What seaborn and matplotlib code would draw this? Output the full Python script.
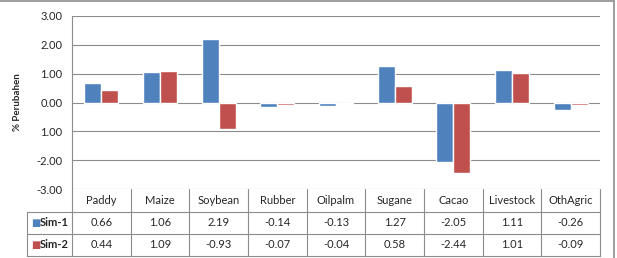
import numpy as np
import matplotlib
matplotlib.use("Agg")
import matplotlib.pyplot as plt
import matplotlib.transforms as mtransforms
import pandas as pd
import seaborn as sns
from matplotlib.lines import Line2D

categories = ["Paddy", "Maize", "Soybean", "Rubber", "Oilpalm", "Sugane", "Cacao", "Livestock", "OthAgric"]
sim1 = [0.66, 1.06, 2.19, -0.14, -0.13, 1.27, -2.05, 1.11, -0.26]
sim2 = [0.44, 1.09, -0.93, -0.07, -0.04, 0.58, -2.44, 1.01, -0.09]
series = ["Sim-1", "Sim-2"]
colors = ["#4F81BD", "#C0504D"]
ytick_vals = [3, 2, 1, 0, -1, -2, -3]
ytick_labels = ["3.00", "2.00", "1.00", "0.00", "1.00", "-2.00", "-3.00"]

df = pd.DataFrame({
    "cat": categories * 2,
    "val": sim1 + sim2,
    "sim": ["Sim-1"] * len(categories) + ["Sim-2"] * len(categories),
})

sns.set_style("white")
plt.rcParams["font.family"] = ["Lato", "DejaVu Sans"]

fig = plt.figure(figsize=(6.17, 2.58), dpi=100)
ax = fig.add_axes([72 / 617, 1 - 189 / 258, 528 / 617, 173 / 258])

sns.barplot(data=df, x="cat", y="val", hue="sim", palette=colors, width=0.58,
            ax=ax, legend=False, saturation=1)

ax.set_ylim(-3, 3)
ax.set_xlim(-0.5, len(categories) - 0.5)
ax.set_yticks(ytick_vals)
ax.set_yticklabels(ytick_labels, fontsize=8)
ax.set_xticks([])
ax.set_xlabel("")
ax.set_ylabel("% Perubahen", fontsize=7, fontweight="bold", labelpad=10)
for y in ytick_vals:
    ax.axhline(y, color="#8c8c8c", lw=0.8, zorder=0)
for s in ["top", "right", "bottom"]:
    ax.spines[s].set_visible(False)
ax.spines["left"].set_color("#8c8c8c")
ax.spines["left"].set_linewidth(0.8)
ax.tick_params(axis="y", length=3, color="#8c8c8c", pad=4)

# data table below the plot (x in category units, y in axes units)
tr = mtransforms.blended_transform_factory(ax.transData, ax.transAxes)
n = len(categories)
row_h = [0, -23 / 173, -45 / 173, -67 / 173]
lab_left = -0.5 - 45 / (528 / n)
line_kw = dict(color="#8c8c8c", lw=0.8, transform=tr, clip_on=False)
for y in row_h[1:]:
    ax.plot([lab_left, n - 0.5], [y, y], **line_kw)
for i in range(n + 1):
    ax.plot([i - 0.5, i - 0.5], [0, row_h[-1]], **line_kw)
ax.plot([lab_left, lab_left], [row_h[1], row_h[-1]], **line_kw)

for i, cat in enumerate(categories):
    ax.text(i, (row_h[0] + row_h[1]) / 2, cat, ha="center", va="center",
            fontsize=8, transform=tr)
    for r, vals in enumerate([sim1, sim2]):
        ax.text(i, (row_h[r + 1] + row_h[r + 2]) / 2, f"{vals[i]:.2f}",
                ha="center", va="center", fontsize=8, transform=tr)
for r, s in enumerate(series):
    yy = (row_h[r + 1] + row_h[r + 2]) / 2
    ax.text(lab_left + 0.07, yy, "\u25a0", color=colors[r], fontsize=7,
            va="center", ha="left", transform=tr, family="DejaVu Sans")
    ax.text(lab_left + 0.22, yy, s, fontsize=8, va="center", ha="left",
            fontweight="bold", transform=tr)

# chart area border (top and right edges visible in the crop)
fig.add_artist(Line2D([0, 614 / 617], [0.998, 0.998], color="#8c8c8c", lw=1.2))
fig.add_artist(Line2D([614 / 617, 614 / 617], [0, 0.998], color="#8c8c8c", lw=1.2))

fig.savefig("out.png", dpi=100)
